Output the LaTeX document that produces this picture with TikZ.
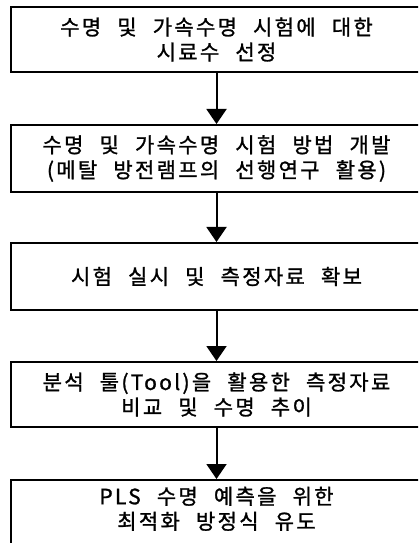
\documentclass[tikz,border=0pt]{standalone}
\usepackage{fontspec}
\setmainfont{Noto Sans CJK KR}[LetterSpace=11, WordSpace=2.3, FakeBold=1.2]
\usetikzlibrary{arrows.meta}
\begin{document}
\begin{tikzpicture}[x=1bp, y=-1bp,
  stepbox/.style={draw, line width=2bp, minimum width=411bp, align=center,
    inner sep=0pt, font=\fontsize{21bp}{25bp}\selectfont},
  flow/.style={line width=2bp, -{Triangle[width=20bp,length=15bp]}}]
\useasboundingbox (0,0) rectangle (418,543);
\clip (0,0) rectangle (418,543);
\node[stepbox, minimum height=65bp] (b1) at (216.5,39.5) {수명 및 가속수명 시험에 대한\\시료수 선정};
\node[stepbox, minimum height=67bp] (b2) at (216.5,158.5) {수명 및 가속수명 시험 방법 개발\\(메탈 방전램프의 선행연구 활용)};
\node[stepbox, minimum height=67bp] (b3) at (216.5,276.5) {시험 실시 및 측정자료 확보};
\node[stepbox, minimum height=65bp] (b4) at (216.5,394.5) {분석 툴(Tool)을 활용한 측정자료\\비교 및 수명 추이};
\node[stepbox, minimum height=70bp, text depth=14bp] (b5) at (216.5,515) {PLS 수명 예측을 위한\\최적화 방정식 유도};
\draw[flow] (b1) -- (b2);
\draw[flow] (b2) -- (b3);
\draw[flow] (b3) -- (b4);
\draw[flow] (b4) -- (b5);
\end{tikzpicture}
\end{document}
